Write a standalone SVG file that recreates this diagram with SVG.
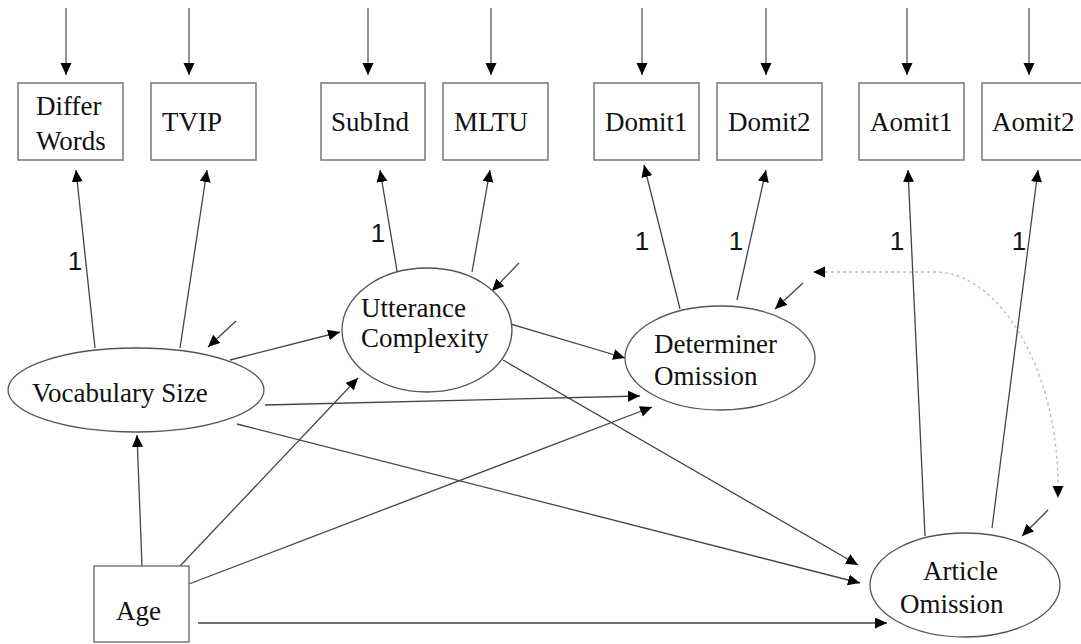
<svg xmlns="http://www.w3.org/2000/svg" width="1081" height="644" viewBox="0 0 1081 644">
<style>
  .box{fill:#fff;stroke:#777;stroke-width:1.5}
  .ell{fill:#fff;stroke:#555;stroke-width:1.3}
  .t{font-family:"Liberation Serif","Times New Roman",serif;font-size:27px;fill:#111}
  .one{font-family:"Liberation Sans",Arial,sans-serif;font-size:26px;fill:#111;text-anchor:middle}
  .ln{fill:none;stroke:#444;stroke-width:1.3;marker-end:url(#ah)}
  .err{fill:none;stroke:#777;stroke-width:1.6;marker-end:url(#ah)}
  .cov{fill:none;stroke:#bbb;stroke-width:1.3;stroke-dasharray:3 3}
</style>
<defs>
  <marker id="ah" markerUnits="userSpaceOnUse" markerWidth="13" markerHeight="12" refX="12" refY="5.5" orient="auto">
    <path d="M0,0 L12,5.5 L0,11 z" fill="#000"/>
  </marker>
  <marker id="ahc" markerUnits="userSpaceOnUse" markerWidth="13" markerHeight="12" refX="12" refY="5.5" orient="auto-start-reverse">
    <path d="M0,0 L12,5.5 L0,11 z" fill="#000"/>
  </marker>
</defs>
<rect width="1081" height="644" fill="#fff"/>

<g id="connectors">
  <!-- error arrows into indicators -->
  <line class="err" x1="66" y1="8" x2="66" y2="75"/>
  <line class="err" x1="189" y1="8" x2="189" y2="75"/>
  <line class="err" x1="368" y1="8" x2="368" y2="75"/>
  <line class="err" x1="491" y1="8" x2="491" y2="75"/>
  <line class="err" x1="642" y1="8" x2="642" y2="75"/>
  <line class="err" x1="766" y1="8" x2="766" y2="75"/>
  <line class="err" x1="907" y1="8" x2="907" y2="75"/>
  <line class="err" x1="1029" y1="8" x2="1029" y2="75"/>
  <!-- loadings -->
  <line class="ln" x1="95" y1="348" x2="76" y2="170"/>
  <line class="ln" x1="180" y1="348" x2="207" y2="170"/>
  <line class="ln" x1="397" y1="271" x2="380" y2="170"/>
  <line class="ln" x1="472" y1="272" x2="490" y2="170"/>
  <line class="ln" x1="680" y1="309" x2="644" y2="165"/>
  <line class="ln" x1="737" y1="300" x2="766" y2="170"/>
  <line class="ln" x1="925" y1="536" x2="908" y2="170"/>
  <line class="ln" x1="992" y1="528" x2="1038" y2="170"/>
  <!-- structural paths -->
  <line class="ln" x1="230" y1="360" x2="340" y2="332"/>
  <line class="ln" x1="265" y1="405" x2="640" y2="396"/>
  <line class="ln" x1="237" y1="424" x2="860" y2="583"/>
  <line class="ln" x1="507" y1="323" x2="625" y2="358"/>
  <line class="ln" x1="503" y1="360" x2="858" y2="565"/>
  <line class="ln" x1="142" y1="566" x2="137" y2="435"/>
  <line class="ln" x1="180" y1="566" x2="358" y2="378"/>
  <line class="ln" x1="189" y1="584" x2="652" y2="407"/>
  <line class="ln" x1="198" y1="623" x2="887" y2="623"/>
  <!-- disturbances -->
  <line class="ln" x1="236" y1="321" x2="208" y2="347"/>
  <line class="ln" x1="519" y1="263" x2="492" y2="291"/>
  <line class="ln" x1="803" y1="283" x2="775" y2="309"/>
  <line class="ln" x1="1048" y1="510" x2="1022" y2="536"/>
  <!-- covariance -->
  <path class="cov" d="M825,272 L935,272 C1000,272 1058,370 1058,486"/>
  <path d="M813,272 L825,266.5 L825,277.5 z" fill="#000"/>
  <path d="M1058,498 L1052.5,486 L1063.5,486 z" fill="#000"/>
</g>

<g id="label-ones">
  <text class="one" x="75" y="270">1</text>
  <text class="one" x="378" y="242">1</text>
  <text class="one" x="642" y="250">1</text>
  <text class="one" x="736" y="250">1</text>
  <text class="one" x="897" y="250">1</text>
  <text class="one" x="1019" y="250">1</text>
</g>

<g id="differ-words"><rect class="box" x="18" y="83" width="105" height="77"/><text class="t" x="36" y="115">Differ</text><text class="t" x="36" y="150">Words</text></g>
<g id="tvip"><rect class="box" x="151" y="83" width="105" height="77"/><text class="t" x="162" y="131">TVIP</text></g>
<g id="subind"><rect class="box" x="321" y="83" width="104" height="77"/><text class="t" x="331" y="131">SubInd</text></g>
<g id="mltu"><rect class="box" x="443" y="83" width="105" height="77"/><text class="t" x="454" y="131">MLTU</text></g>
<g id="domit1"><rect class="box" x="594" y="83" width="105" height="77"/><text class="t" x="605" y="131">Domit1</text></g>
<g id="domit2"><rect class="box" x="717" y="83" width="105" height="77"/><text class="t" x="728" y="131">Domit2</text></g>
<g id="aomit1"><rect class="box" x="859" y="83" width="105" height="77"/><text class="t" x="870" y="131">Aomit1</text></g>
<g id="aomit2"><rect class="box" x="982" y="83" width="105" height="77"/><text class="t" x="992" y="131">Aomit2</text></g>

<g id="vocabulary-size"><ellipse class="ell" cx="136" cy="390" rx="128" ry="42"/><text class="t" x="32" y="402">Vocabulary Size</text></g>
<g id="utterance-complexity"><ellipse class="ell" cx="427" cy="330" rx="85" ry="62"/><text class="t" x="361" y="317">Utterance</text><text class="t" x="361" y="347">Complexity</text></g>
<g id="determiner-omission"><ellipse class="ell" cx="720" cy="358" rx="95" ry="52"/><text class="t" x="654" y="353">Determiner</text><text class="t" x="654" y="385">Omission</text></g>
<g id="article-omission"><ellipse class="ell" cx="965" cy="585" rx="95" ry="52"/><text class="t" x="923" y="580">Article</text><text class="t" x="900" y="613">Omission</text></g>
<g id="age"><rect class="box" x="94" y="566" width="95" height="76"/><text class="t" x="116" y="620">Age</text></g>
</svg>
